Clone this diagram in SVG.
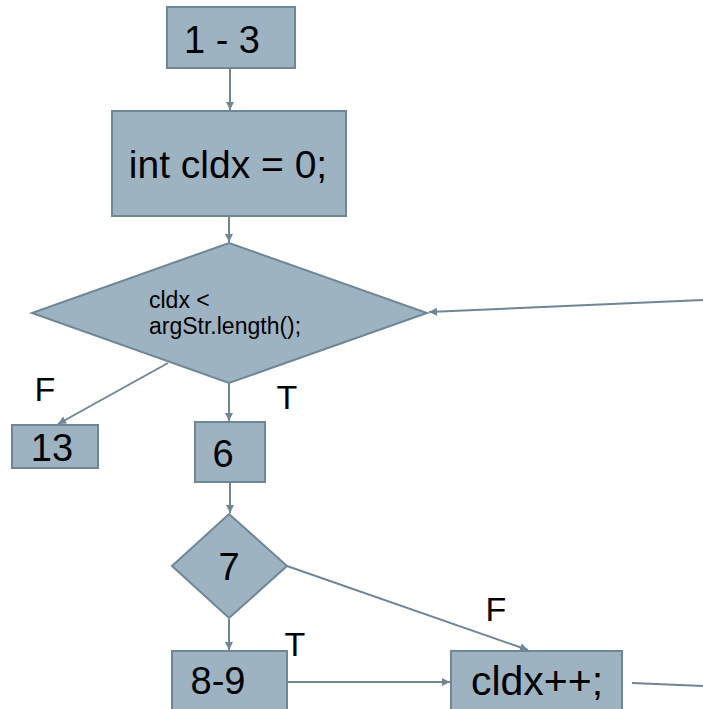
<svg xmlns="http://www.w3.org/2000/svg" width="703" height="709" viewBox="0 0 703 709">
<style>
.n{fill:#9eb3c1;stroke:#6f8695;stroke-width:2}
.t{font-family:"Liberation Sans",Arial,sans-serif;fill:#000;text-anchor:middle}
.big{font-size:38px}
.lbl{font-size:34px}
.c{stroke:#6f8695;stroke-width:2;fill:none}
</style>
<defs>
<marker id="a" viewBox="0 0 10 10" refX="10" refY="5" markerWidth="9" markerHeight="8" markerUnits="userSpaceOnUse" orient="auto" overflow="visible">
<path d="M0,0 L10,5 L0,10 z" fill="#6f8695"/>
</marker>
</defs>
<rect width="703" height="709" fill="#fff"/>
<g id="connectors">
<line class="c" x1="230" y1="68" x2="230" y2="110" marker-end="url(#a)"/>
<line class="c" x1="229" y1="216" x2="229" y2="242" marker-end="url(#a)"/>
<line class="c" x1="703" y1="300" x2="429" y2="312" marker-end="url(#a)"/>
<line class="c" x1="168" y1="363" x2="58" y2="424" marker-end="url(#a)"/>
<line class="c" x1="229" y1="383" x2="229" y2="421" marker-end="url(#a)"/>
<line class="c" x1="230" y1="482" x2="230" y2="513" marker-end="url(#a)"/>
<line class="c" x1="287" y1="566" x2="528" y2="650" marker-end="url(#a)"/>
<line class="c" x1="229" y1="619" x2="229" y2="650" marker-end="url(#a)"/>
<line class="c" x1="287" y1="682" x2="450" y2="682" marker-end="url(#a)"/>
<line class="c" x1="632" y1="683" x2="703" y2="686"/>
</g>
<g id="n1">
<rect class="n" x="167" y="7" width="128" height="61"/>
<text class="t big" x="222" y="53">1 - 3</text>
</g>
<g id="n2">
<rect class="n" x="112" y="111" width="234" height="105"/>
<text class="t big" style="font-size:39px" x="228" y="178">int cldx = 0;</text>
</g>
<g id="n3">
<polygon class="n" points="229,243 427,313 229,383 32,313"/>
<text class="t" style="font-size:23px;text-anchor:start" x="149" y="308">cldx &lt;</text>
<text class="t" style="font-size:23px;text-anchor:start" x="149" y="334">argStr.length();</text>
</g>
<g id="n4">
<rect class="n" x="12" y="425" width="86" height="43"/>
<text class="t big" x="52" y="461">13</text>
</g>
<g id="n5">
<rect class="n" x="195" y="422" width="70" height="60"/>
<text class="t big" x="223" y="467">6</text>
</g>
<g id="n6">
<polygon class="n" points="229,514 287,566 229,618 172,566"/>
<text class="t big" x="229" y="580">7</text>
</g>
<g id="n7">
<rect class="n" x="172" y="651" width="115" height="62"/>
<text class="t big" x="218" y="694">8-9</text>
</g>
<g id="n8">
<rect class="n" x="451" y="651" width="171" height="62"/>
<text class="t big" style="font-size:41px" x="537" y="695">cldx++;</text>
</g>
<g id="labels">
<text class="t lbl" x="45" y="401">F</text>
<text class="t lbl" x="287" y="409">T</text>
<text class="t lbl" x="295" y="656">T</text>
<text class="t lbl" x="496" y="621">F</text>
</g>
</svg>
